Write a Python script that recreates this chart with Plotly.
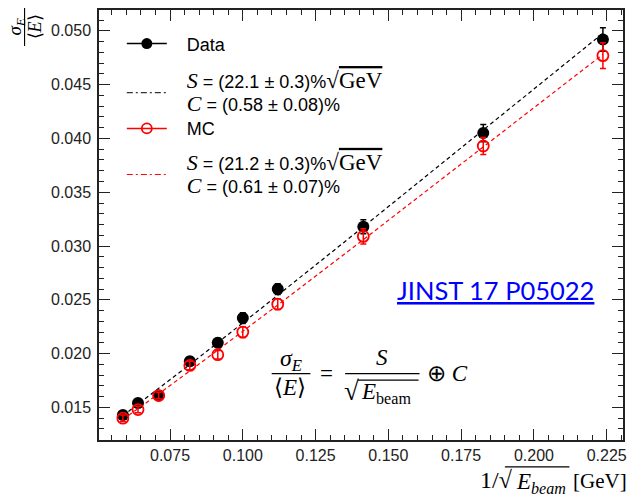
import plotly.graph_objects as go
import numpy as np

# ---------------- data ----------------
x_vals = [0.0588, 0.0640, 0.0711, 0.0818, 0.0914, 0.1000, 0.1120, 0.1414, 0.1826, 0.2237]
data_y = [0.0143, 0.0154, 0.0161, 0.0193, 0.0210, 0.0233, 0.0260, 0.0318, 0.0405, 0.0492]
data_err = [0.0004, 0.0004, 0.0004, 0.0004, 0.0004, 0.0005, 0.0005, 0.00065, 0.0008, 0.0011]
mc_y = [0.0140, 0.0148, 0.0161, 0.0189, 0.0199, 0.0220, 0.0246, 0.0309, 0.0393, 0.0477]
mc_err = [0.0003, 0.0003, 0.0003, 0.0004, 0.0004, 0.0005, 0.0005, 0.0007, 0.0008, 0.0012]

# fit parameters (stochastic S, constant C)
S_data, C_data = 0.221, 0.0058
S_mc, C_mc = 0.212, 0.0061

xv = np.array(x_vals)
fit_data = np.sqrt((S_data * xv) ** 2 + C_data ** 2)
fit_mc = np.sqrt((S_mc * xv) ** 2 + C_mc ** 2)

# ---------------- layout helpers ----------------
W, H = 635, 498
PL, PR, PT, PB = 99, 627, 9, 440


def px(x):
    return (x - PL) / (PR - PL)


def py(y):
    return (PB - y) / (PB - PT)


SANS = "Liberation Sans"
SERIF = "Liberation Serif"
PAD = "\u00a0\u00a0\u00a0"

fig = go.Figure()

# fit lines
fig.add_trace(go.Scatter(x=x_vals, y=fit_data, mode="lines", showlegend=False,
                         line=dict(color="black", width=1.2, dash="4px,3px")))
fig.add_trace(go.Scatter(x=x_vals, y=fit_mc, mode="lines", showlegend=False,
                         line=dict(color="red", width=1.2, dash="4px,3px")))

# data points
fig.add_trace(go.Scatter(x=x_vals, y=data_y, mode="markers", showlegend=False,
                         marker=dict(symbol="circle", size=12, color="black"),
                         error_y=dict(type="data", array=data_err, color="black",
                                      thickness=1.5, width=3)))
fig.add_trace(go.Scatter(x=x_vals, y=mc_y, mode="markers", showlegend=False,
                         marker=dict(symbol="circle-open", size=11, color="red",
                                     line=dict(width=1.8, color="red")),
                         error_y=dict(type="data", array=mc_err, color="red",
                                      thickness=1.5, width=3)))

# legend-only entries
SF = "font-family:%s;font-size:22px" % SERIF
SG = "font-family:%s;font-size:23px" % SERIF
sq = "√<span style='text-decoration:overline'>GeV</span>"


def fit_text(s_txt, c_txt):
    return ("%s<span style='%s'><i>S</i></span> = %s"
            "<span style='%s'>%s</span><br>"
            "%s<span style='%s'><i>C</i></span> = %s"
            % (PAD, SF, s_txt, SG, sq, PAD, SF, c_txt))


fit_txt_data = fit_text("(22.1 ± 0.3)%", "(0.58 ± 0.08)%")
fit_txt_mc = fit_text("(21.2 ± 0.3)%", "(0.61 ± 0.07)%")

fig.add_trace(go.Scatter(x=[None], y=[None], mode="lines+markers", name=PAD + "Data",
                         legend="legend",
                         line=dict(color="black", width=1.5),
                         marker=dict(symbol="circle", size=11, color="black")))
fig.add_trace(go.Scatter(x=[None], y=[None], mode="lines", name=fit_txt_data,
                         legend="legend2",
                         line=dict(color="black", width=1, dash="6px,3px,2px,3px")))
fig.add_trace(go.Scatter(x=[None], y=[None], mode="lines+markers", name=PAD + "MC",
                         legend="legend3",
                         line=dict(color="red", width=1.5),
                         marker=dict(symbol="circle-open", size=10, color="red",
                                     line=dict(width=1.8, color="red"))))
fig.add_trace(go.Scatter(x=[None], y=[None], mode="lines", name=fit_txt_mc,
                         legend="legend4",
                         line=dict(color="red", width=1, dash="6px,3px,2px,3px")))


def leg(yc):
    return dict(x=px(122), y=py(yc), xanchor="left", yanchor="middle",
                bgcolor="rgba(0,0,0,0)", borderwidth=0, itemwidth=40,
                font=dict(family=SANS, size=18, color="black"))


annotations = []


def ann(text, x, y, size=20, family=SERIF, xanchor="center", yanchor="middle",
        color="black", angle=0):
    annotations.append(dict(text=text, x=px(x), y=py(y), xref="paper", yref="paper",
                            showarrow=False, xanchor=xanchor, yanchor=yanchor,
                            textangle=angle, font=dict(family=family, size=size, color=color)))


# big formula
ann("<i>σ<sub>E</sub></i>", 292, 360, size=24)
ann("⟨<i>E</i>⟩", 291, 387, size=23)
ann("=", 328, 373, size=23)
ann("<i>S</i>", 384, 357, size=23)
ann("√", 353, 391, size=27)
ann("<i>E</i><sub>beam</sub>", 361, 393, size=23, xanchor="left")
ann("⊕ <i>C</i>", 450, 373, size=23)

# JINST reference
ann("<span style='text-decoration:underline'>JINST 17 P05022</span>", 499, 290,
    size=25.5, family="Lato", color="#0000ff")

# x axis title, split into pieces so the radical bar can be drawn
ann("[GeV]", 633, 481, size=21, xanchor="right")
ann("<i>E<sub>beam</sub></i>", 572, 483, size=23, xanchor="right")
ann("1/√", 518, 480, size=24, xanchor="right")

# y axis title (rotated fraction)
ann("<i>σ<sub>E</sub></i>", 15, 26, size=19, angle=-90)
ann("⟨<i>E</i>⟩", 34, 26, size=18, angle=-90)

shapes = [
    dict(type="line", xref="paper", yref="paper", x0=px(273), x1=px(312),
         y0=py(373.5), y1=py(373.5), line=dict(color="black", width=1.3)),
    dict(type="line", xref="paper", yref="paper", x0=px(347), x1=px(422),
         y0=py(373.5), y1=py(373.5), line=dict(color="black", width=1.3)),
    dict(type="line", xref="paper", yref="paper", x0=px(360), x1=px(421),
         y0=py(380), y1=py(380), line=dict(color="black", width=1.2)),
    dict(type="line", xref="paper", yref="paper", x0=px(508), x1=px(573),
         y0=py(467), y1=py(467), line=dict(color="black", width=1.2)),
    dict(type="line", xref="paper", yref="paper", x0=px(24), x1=px(24),
         y0=py(7), y1=py(45), line=dict(color="black", width=1.1)),
]

axis_common = dict(showgrid=False, zeroline=False, showline=True, linecolor="#222",
                   linewidth=1.5, mirror="ticks", ticks="inside", ticklen=11,
                   tickwidth=1.2, tickcolor="#222",
                   tickfont=dict(family=SANS, size=16, color="#222"),
                   tickformat=".3f")

fig.update_layout(
    width=W, height=H,
    margin=dict(l=PL, r=W - PR, t=PT, b=H - PB),
    paper_bgcolor="white", plot_bgcolor="white",
    xaxis=dict(range=[0.0506, 0.2306], tick0=0, dtick=0.025,
               minor=dict(dtick=0.005, ticks="inside", ticklen=5, tickcolor="#222",
                          tickwidth=1), **axis_common),
    yaxis=dict(range=[0.01197, 0.05194], tick0=0, dtick=0.005, ticklabelstandoff=3,
               minor=dict(dtick=0.001, ticks="inside", ticklen=5, tickcolor="#222",
                          tickwidth=1), **axis_common),
    legend=leg(43), legend2=leg(92), legend3=leg(128), legend4=leg(174),
    annotations=annotations, shapes=shapes,
)

fig.write_html("out.html")
